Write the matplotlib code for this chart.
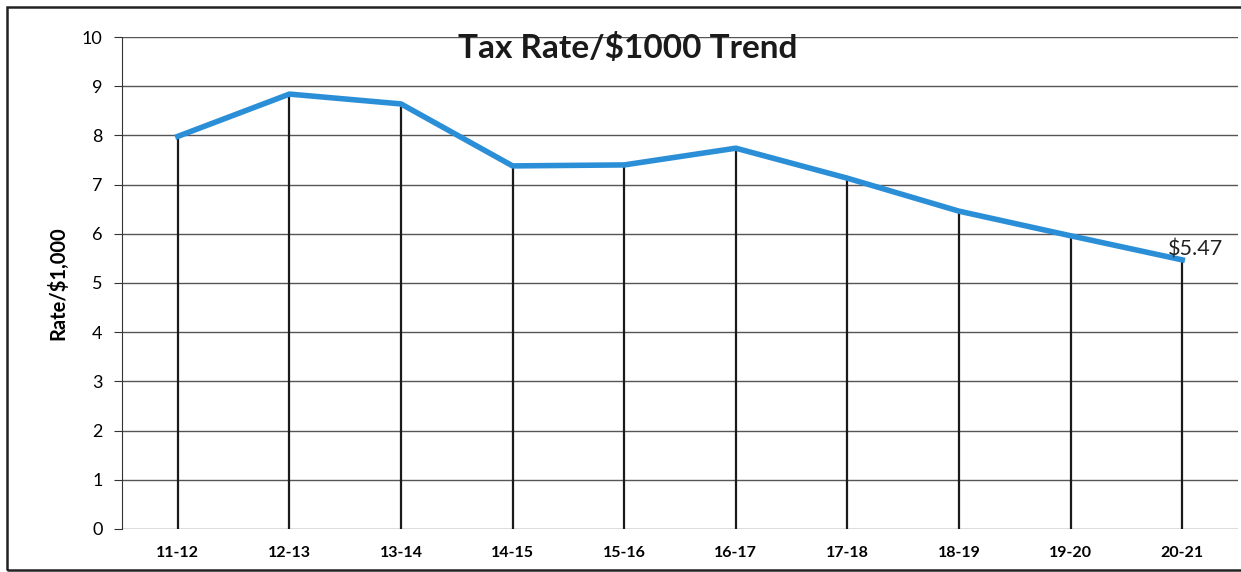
import matplotlib
matplotlib.use("Agg")
import matplotlib.pyplot as plt
from matplotlib.patches import Rectangle

# data
years = ["11-12", "12-13", "13-14", "14-15", "15-16",
         "16-17", "17-18", "18-19", "19-20", "20-21"]
rates = [7.98, 8.84, 8.64, 7.38, 7.40, 7.74, 7.13, 6.46, 5.96, 5.47]
y_ticks = [0, 1, 2, 3, 4, 5, 6, 7, 8, 9, 10]

plt.rcParams['font.family'] = ['Lato', 'DejaVu Sans']

fig = plt.figure(figsize=(12.41, 5.72), dpi=100)
ax = fig.add_axes([0.0983, 0.0752, 0.8993, 0.8601])

x = list(range(len(years)))

# drop lines from each point down to zero
ax.vlines(x, 0, rates, colors="#1a1a1a", linewidth=1.6, zorder=2)
ax.plot(x, rates, color="#2b8fd8", linewidth=4, solid_joinstyle="round", zorder=3)

ax.annotate("$%.2f" % rates[-1], (x[-1], rates[-1]), xytext=(-10, 3),
            textcoords="offset points", fontsize=15.5, color="#222222")

ax.set_xlim(-0.5, len(years) - 0.5)
ax.set_ylim(0, 10)
ax.set_yticks(y_ticks)
ax.set_xticks(x)
ax.set_xticklabels(years, fontweight="bold", fontsize=11.5)
ax.tick_params(axis="x", length=0, pad=12)
ax.tick_params(axis="y", labelsize=13, length=6, color="#333333", pad=8)

ax.grid(axis="y", color="#555555", linewidth=1)
ax.set_axisbelow(True)
for side in ["top", "right", "bottom"]:
    ax.spines[side].set_visible(False)
ax.spines["left"].set_color("#333333")

ax.set_ylabel("Rate/$1,000", fontweight="bold", fontsize=14.5, labelpad=10)
ax.text(0.453, 0.977, "Tax Rate/$1000 Trend", transform=ax.transAxes,
        ha="center", va="center", fontweight="bold", fontsize=24,
        color="#1a1a1a", zorder=4)

# border round the whole chart
fig.patches.append(Rectangle((0.006, 0.004), 1.2, 0.984, transform=fig.transFigure,
                             fill=False, edgecolor="#222222", linewidth=1.8))

fig.savefig("out.png", dpi=100)
